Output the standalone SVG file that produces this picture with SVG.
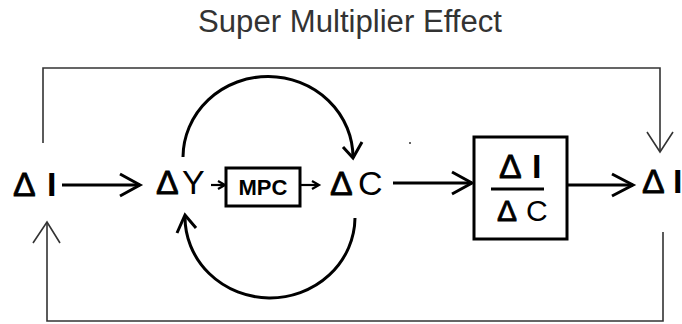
<svg xmlns="http://www.w3.org/2000/svg" width="682" height="324" viewBox="0 0 682 324">
<style>
.title{font-family:"Liberation Sans",Arial,sans-serif;font-size:31px;fill:#333}
.sym{font-family:"Liberation Sans",Arial,sans-serif;font-size:34px;fill:#000}
.b{font-weight:bold}
.d{stroke:#000;stroke-width:0.8;stroke-linejoin:miter}
.mpc{font-family:"Liberation Sans",Arial,sans-serif;font-size:22px;font-weight:bold;fill:#000}
.thin{fill:none;stroke:#333;stroke-width:1.6}
.thick{fill:none;stroke:#000;stroke-width:3}
.med{fill:none;stroke:#000;stroke-width:2.2}
.box{fill:#fff;stroke:#000;stroke-width:3}
</style>
<rect width="682" height="324" fill="#fff"/>
<text class="title" x="350" y="32" text-anchor="middle" textLength="304" lengthAdjust="spacingAndGlyphs">Super Multiplier Effect</text>
<g id="connectors">
  <path class="thin" d="M43,143 V68 H660 V152"/>
  <path class="thin" d="M647,132 L660,152 L673,132"/>
  <path class="thin" d="M663,232 V321 H47 V222"/>
  <path class="thin" d="M33,243 L47,222 L60,243"/>
  <path class="thick" d="M62,185 H140"/>
  <path class="thick" d="M120,174 L140,185 L120,196"/>
  <path class="med" d="M211,185 H224"/>
  <path class="med" d="M218,181 L225,185 L218,189"/>
  <path class="med" d="M301,185 H318"/>
  <path class="med" d="M312,181 L319,185 L312,189"/>
  <path class="thick" d="M393,183 H472"/>
  <path class="thick" d="M452,172 L472,183 L452,194"/>
  <path class="thick" d="M568,185 H633"/>
  <path class="thick" d="M612,174 L633,185 L612,196"/>
  <path class="thick" d="M183,157 A85,81 0 0 1 353,158"/>
  <path class="thick" d="M343,147 L353,158 L362,142"/>
  <path class="thick" d="M355,218 A85,81 0 0 1 185,216"/>
  <path class="thick" d="M177,233 L185,215 L196,228"/>
  <circle cx="410" cy="143" r="1" fill="#333"/>
</g>
<g id="node-dI-left">
  <text class="sym d" x="13" y="196">Δ</text>
  <text class="sym b" x="47" y="196">I</text>
</g>
<g id="node-dY">
  <text class="sym d" x="156" y="194">Δ</text>
  <text class="sym" x="182" y="194">Y</text>
</g>
<g id="node-mpc">
  <rect class="box" x="226" y="168" width="74" height="38"/>
  <text class="mpc" x="263" y="195" text-anchor="middle">MPC</text>
</g>
<g id="node-dC">
  <text class="sym d" x="330" y="195">Δ</text>
  <text class="sym" x="358" y="195">C</text>
</g>
<g id="node-ratio">
  <rect class="box" x="474" y="137" width="93" height="102"/>
  <text class="sym d" x="499" y="178">Δ</text>
  <text class="sym b" x="532" y="178">I</text>
  <path class="thick" d="M491,189 H544"/>
  <text class="sym d" x="497" y="221" style="font-size:30px">Δ</text>
  <text class="sym" x="526" y="221" style="font-size:30px">C</text>
</g>
<g id="node-dI-right">
  <text class="sym d" x="642" y="193">Δ</text>
  <text class="sym b" x="673" y="193">I</text>
</g>
</svg>
